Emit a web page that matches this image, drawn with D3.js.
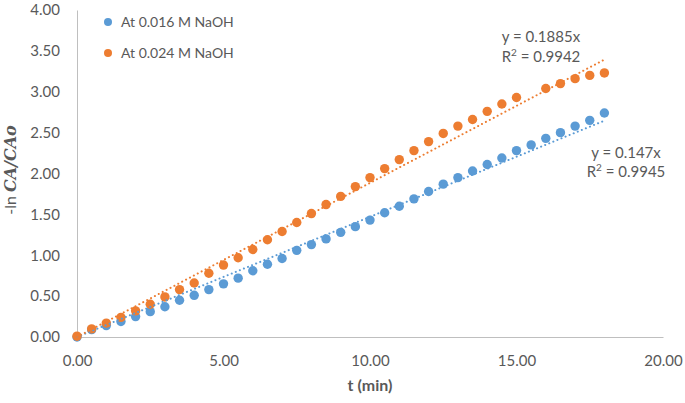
<!DOCTYPE html>
<html>
<head>
<meta charset="utf-8">
<script src="https://cdn.jsdelivr.net/npm/d3@7"></script>
<style>
  html, body { margin: 0; padding: 0; background: #fff; }
  svg { display: block; font-family: Lato, "Open Sans", sans-serif; }
</style>
</head>
<body>
<svg id="chart" width="685" height="403"></svg>
<script>
// ---- data ----
const seriesNames = ["At 0.016 M NaOH", "At 0.024 M NaOH"];
const timeBlue = [0,0.5,1,1.5,2,2.5,3,3.5,4,4.5,5,5.5,6,6.5,7,7.5,8,8.5,9,9.5,10,10.5,11,11.5,12,12.5,13,13.5,14,14.5,15,15.5,16,16.5,17,17.5,18];
const valuesBlue = [0.00,0.09,0.14,0.19,0.25,0.31,0.37,0.45,0.51,0.58,0.65,0.72,0.81,0.89,0.96,1.06,1.13,1.20,1.28,1.35,1.43,1.52,1.60,1.69,1.78,1.87,1.95,2.03,2.11,2.19,2.28,2.35,2.43,2.50,2.58,2.65,2.74];
const timeOrange = [0,0.5,1,1.5,2,2.5,3,3.5,4,4.5,5,5.5,6,6.5,7,7.5,8,8.5,9,9.5,10,10.5,11,11.5,12,12.5,13,13.5,14,14.5,15,16,16.5,17,17.5,18];
const valuesOrange = [0.01,0.10,0.17,0.24,0.32,0.40,0.49,0.58,0.66,0.78,0.88,0.97,1.07,1.19,1.29,1.40,1.51,1.62,1.72,1.84,1.95,2.06,2.17,2.28,2.39,2.49,2.58,2.66,2.76,2.85,2.93,3.04,3.10,3.16,3.20,3.23];
const slopes = [0.147, 0.1885];
const r2 = ["0.9945", "0.9942"];
const xTicks = [0, 5, 10, 15, 20];
const yTicks = [0, 0.5, 1, 1.5, 2, 2.5, 3, 3.5, 4];
const colors = ["#5B9BD5", "#ED7D31"];

const svg = d3.select("#chart");
const x = d3.scaleLinear().domain([0, 20]).range([77, 663]);
const y = d3.scaleLinear().domain([0, 4]).range([337, 10]);
const textColor = "#595959";
const axisColor = "#BFBFBF";

// axes
const xAxis = svg.append("g").attr("transform", `translate(0,${y(0)})`)
  .call(d3.axisBottom(x).tickValues(xTicks).tickSize(0).tickPadding(18).tickFormat(d3.format(".2f")));
const yAxis = svg.append("g").attr("transform", `translate(${x(0)},0)`)
  .call(d3.axisLeft(y).tickValues(yTicks).tickSize(0).tickPadding(17).tickFormat(d3.format(".2f")));
[xAxis, yAxis].forEach(g => {
  g.select(".domain").attr("stroke", axisColor).attr("stroke-width", 1);
  g.selectAll("text").attr("fill", textColor).style("font-size", "15px").style("font-family", "Lato, sans-serif");
});

// series
const series = [
  { t: timeBlue, v: valuesBlue },
  { t: timeOrange, v: valuesOrange }
];
series.forEach((s, i) => {
  svg.append("g").selectAll("circle")
    .data(s.t.map((t, j) => [t, s.v[j]]))
    .join("circle")
    .attr("cx", d => x(d[0]))
    .attr("cy", d => y(d[1]))
    .attr("r", 4.7)
    .attr("fill", colors[i]);
});

// trendlines
series.forEach((s, i) => {
  const tMax = d3.max(s.t);
  svg.append("line")
    .attr("x1", x(0)).attr("y1", y(0))
    .attr("x2", x(tMax)).attr("y2", y(slopes[i] * tMax))
    .attr("stroke", colors[i])
    .attr("stroke-width", 2)
    .attr("stroke-linecap", "round")
    .attr("stroke-dasharray", "0.1 4.3");
});

// equations
const eqPos = [[626, 158, 177], [541, 42, 62]];
slopes.forEach((sl, i) => {
  const g = svg.append("g").attr("fill", textColor).style("font-size", "15px").attr("text-anchor", "middle");
  g.append("text").attr("x", eqPos[i][0]).attr("y", eqPos[i][1]).text(`y = ${sl}x`);
  const t2 = g.append("text").attr("x", eqPos[i][0]).attr("y", eqPos[i][2]);
  t2.append("tspan").text("R");
  t2.append("tspan").attr("dy", -6).style("font-size", "10px").text("2");
  t2.append("tspan").attr("dy", 6).text(` = ${r2[i]}`);
});

// legend
seriesNames.forEach((n, i) => {
  const ly = 22 + i * 31;
  svg.append("circle").attr("cx", 108).attr("cy", ly).attr("r", 4).attr("fill", colors[i]);
  svg.append("text").attr("x", 121).attr("y", ly + 5).attr("fill", textColor)
    .style("font-size", "14px").text(n);
});

// axis titles
svg.append("text").attr("x", 370).attr("y", 391).attr("text-anchor", "middle")
  .attr("fill", textColor).style("font-size", "16px").style("font-weight", "bold").text("t (min)");
const yl = svg.append("text").attr("transform", "translate(16,170) rotate(-90)")
  .attr("text-anchor", "middle").attr("fill", textColor).style("font-size", "16px");
yl.append("tspan").text("-ln ");
yl.append("tspan").style("font-weight", "bold").style("font-style", "italic")
  .style("font-family", "'DejaVu Serif', serif").text("CA/CAo");
</script>
</body>
</html>
